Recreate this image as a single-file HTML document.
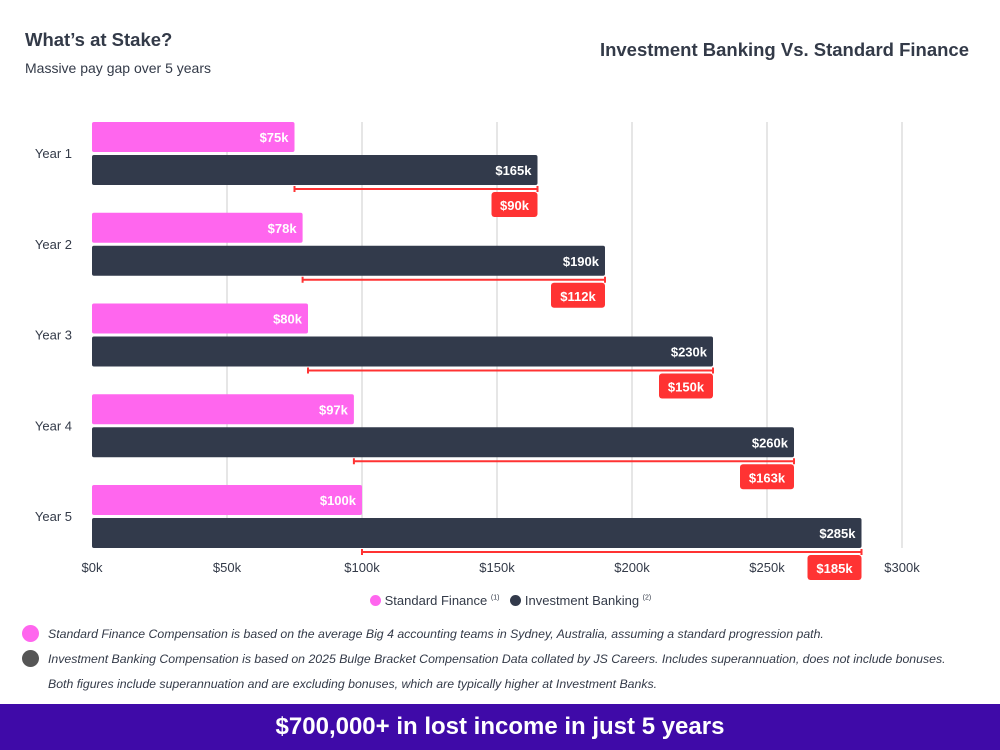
<!DOCTYPE html>
<html><head><meta charset="utf-8">
<style>
body{margin:0;width:1000px;height:750px;background:#fff;font-family:"Liberation Sans",sans-serif;position:relative;overflow:hidden;color:#333a48}
.abs{position:absolute}
</style></head><body>
<div class="abs" style="left:25px;top:29px;font-size:18.5px;font-weight:bold;color:#333a48">What’s at Stake?</div>
<div class="abs" style="left:25px;top:60px;font-size:14px;color:#333a48">Massive pay gap over 5 years</div>
<div class="abs" style="right:31px;top:39px;font-size:18.5px;font-weight:bold;color:#333a48">Investment Banking Vs. Standard Finance</div>
<svg class="abs" style="left:0;top:0" width="1000" height="620" id="chart"></svg>
<div class="abs" style="left:370px;top:593px;font-size:13px;color:#333a48;white-space:nowrap">
<span><span style="display:inline-block;width:11px;height:11px;border-radius:50%;background:#ff66ee;vertical-align:-1px"></span> Standard Finance <sup style="font-size:7px">(1)</sup></span>
&nbsp;&nbsp;<span><span style="display:inline-block;width:11px;height:11px;border-radius:50%;background:#323a4b;vertical-align:-1px"></span> Investment Banking <sup style="font-size:7px">(2)</sup></span>
</div>
<div class="abs" style="left:22px;top:622px;font-size:12.3px;font-style:italic;color:#333a48;line-height:25px;white-space:nowrap">
<div><span style="display:inline-block;width:17px;height:17px;border-radius:50%;background:#ff66ee;vertical-align:-4px;margin-right:9px"></span>Standard Finance Compensation is based on the average Big 4 accounting teams in Sydney, Australia, assuming a standard progression path.</div>
<div><span style="display:inline-block;width:17px;height:17px;border-radius:50%;background:#555;vertical-align:-4px;margin-right:9px"></span>Investment Banking Compensation is based on 2025 Bulge Bracket Compensation Data collated by JS Careers. Includes superannuation, does not include bonuses.</div>
<div style="padding-left:26px">Both figures include superannuation and are excluding bonuses, which are typically higher at Investment Banks.</div>
</div>
<div class="abs" style="left:0;top:704px;width:1000px;height:46px;background:#3f0aa8;color:#fff;font-size:24px;font-weight:bold;text-align:center;line-height:46px">$700,000+ in lost income in just 5 years</div>
<script>
const categories=["Year 1","Year 2","Year 3","Year 4","Year 5"];
const standardFinance=[75,78,80,97,100];
const investmentBanking=[165,190,230,260,285];
const xTicks=[0,50,100,150,200,250,300];
const svg=document.getElementById('chart');
const NS="http://www.w3.org/2000/svg";
const x0=92,x1=902,xMax=300;
const xs=v=>x0+(x1-x0)*v/xMax;
const bandTop=i=>122+i*90.75;
function el(t,a,p){const e=document.createElementNS(NS,t);for(const k in a)e.setAttribute(k,a[k]);(p||svg).appendChild(e);return e;}
xTicks.forEach(t=>{
 if(t>0){const g=el('line',{x1:xs(t),x2:xs(t),y1:122,y2:548,stroke:'#cccccc','stroke-width':1});
 
 }
 const tx=el('text',{x:xs(t),y:572,'text-anchor':'middle','font-size':13,fill:'#333a48'});
 tx.textContent='$'+t+'k';
 
 
});
categories.forEach((c,i)=>{
 const y=bandTop(i);
 const lb=el('text',{x:72,y:y+36,'text-anchor':'end','font-size':13,fill:'#333a48'});lb.textContent=c;
 
 
 const sf=standardFinance[i],ib=investmentBanking[i];
 const p=el('rect',{x:x0,y:y,width:xs(sf)-x0,height:30,rx:2,fill:'#ff66ee'});
 
 
 const pt=el('text',{x:xs(sf)-6,y:y+20,'text-anchor':'end','font-size':13,'font-weight':'bold',fill:'#fff'});pt.textContent='$'+sf+'k';
 
 
 const d=el('rect',{x:x0,y:y+33,width:xs(ib)-x0,height:30,rx:2,fill:'#323a4b'});
 
 
 const dt=el('text',{x:xs(ib)-6,y:y+53,'text-anchor':'end','font-size':13,'font-weight':'bold',fill:'#fff'});dt.textContent='$'+ib+'k';
 
 
 const ly=y+67;
 const g=el('path',{d:`M${xs(sf)} ${ly-3}V${ly+3}M${xs(sf)} ${ly}H${xs(ib)}M${xs(ib)} ${ly-3}V${ly+3}`,stroke:'#ff3333','stroke-width':2,fill:'none'});
 
 
 const gap=ib-sf,txt='$'+gap+'k',w=txt.length*8+14;
 const b=el('rect',{x:xs(ib)-w,y:y+70,width:w,height:25,rx:3,fill:'#ff3333'});
 
 
 const bt=el('text',{x:xs(ib)-w/2,y:y+88,'text-anchor':'middle','font-size':13,'font-weight':'bold',fill:'#fff'});bt.textContent=txt;
 
 
});
</script>
</body></html>
